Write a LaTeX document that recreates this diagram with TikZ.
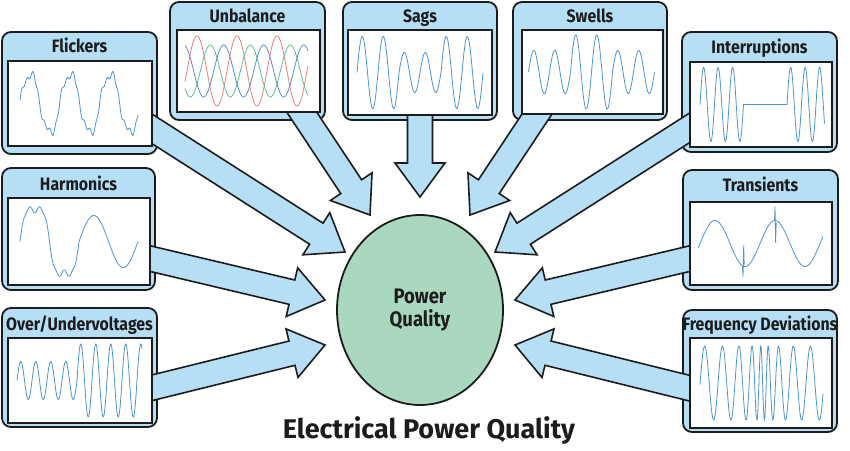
\documentclass[tikz,border=0pt]{standalone}
\usepackage{fontspec}
\setmainfont{Fira Sans}
\newfontfamily\condfont{Fira Sans}[FakeStretch=0.88]
\usetikzlibrary{calc,shapes.geometric}

\definecolor{panelblue}{RGB}{182,223,246}
\definecolor{edge}{RGB}{28,28,28}
\definecolor{pqgreen}{RGB}{170,216,190}
\definecolor{wavecol}{RGB}{78,148,204}
\definecolor{phasea}{RGB}{232,128,118}
\definecolor{phaseb}{RGB}{92,190,150}
\definecolor{phasec}{RGB}{92,140,205}

\tikzset{
  panel/.style={draw=edge, fill=panelblue, line width=1.8pt, rounded corners=9pt, inner sep=0pt, outer sep=0pt},
  plotbox/.style={draw=edge, fill=white, line width=1.6pt, inner sep=0pt, outer sep=0pt},
  heading/.style={font=\condfont\bfseries\fontsize{18}{20}\selectfont, text=edge, inner sep=0pt, anchor=base},
  arrowbody/.style={draw=edge, fill=panelblue, line width=1.6pt, line join=miter},
  wave/.style={draw=wavecol, line width=0.8pt},
  pqnode/.style={ellipse, draw=edge, fill=pqgreen, line width=1.8pt, inner sep=0pt, align=center,
    font=\condfont\bfseries\fontsize{21}{23}\selectfont, text=edge},
}

% fat block arrow from #1 (inside a panel) to the tip #2
\newcommand{\fatarrow}[2]{%
  \coordinate (fa-s) at (#1);
  \coordinate (fa-t) at (#2);
  \coordinate (fa-b) at ($(fa-t)!34pt!(fa-s)$);
  \path[arrowbody] ($(fa-s)!12.5pt!90:(fa-t)$) -- ($(fa-b)!12.5pt!90:(fa-t)$)
    -- ($(fa-b)!25pt!90:(fa-t)$) -- (fa-t) -- ($(fa-b)!25pt!-90:(fa-t)$)
    -- ($(fa-b)!12.5pt!-90:(fa-t)$) -- ($(fa-s)!12.5pt!-90:(fa-t)$);
}

\begin{document}
\begin{tikzpicture}[x=1pt, y=-1pt]
\useasboundingbox (0,0) rectangle (850,450);

% Outer panels
\node[panel, minimum width=155pt, minimum height=122pt] (flickers) at (79.5,93) {};
\node[panel, minimum width=155pt, minimum height=118pt] (unbalance) at (247.5,61) {};
\node[panel, minimum width=154pt, minimum height=118pt] (sags) at (420,61) {};
\node[panel, minimum width=154pt, minimum height=118pt] (swells) at (590,61) {};
\node[panel, minimum width=155pt, minimum height=120pt] (interrupt) at (759.5,92) {};
\node[panel, minimum width=153pt, minimum height=122pt] (harmonics) at (78.5,229) {};
\node[panel, minimum width=155pt, minimum height=120pt] (transients) at (760.5,230) {};
\node[panel, minimum width=155pt, minimum height=119pt] (overunder) at (79.5,367.5) {};
\node[panel, minimum width=154pt, minimum height=122pt] (freqdev) at (760,371) {};

% The centre
\node[pqnode, minimum width=166pt, minimum height=190pt] (pq) at (420,310) {Power\\Quality};

% Where the arrows start and end
\coordinate (flickers-s) at (135,118);
\coordinate (flickers-t) at (345,252);
\coordinate (unbalance-s) at (295,102);
\coordinate (unbalance-t) at (370,215);
\coordinate (sags-s) at (420,100);
\coordinate (sags-t) at (420,197);
\coordinate (swells-s) at (545,102);
\coordinate (swells-t) at (470,215);
\coordinate (interrupt-s) at (705,118);
\coordinate (interrupt-t) at (495,252);
\coordinate (harmonics-s) at (135,255);
\coordinate (harmonics-t) at (325,300);
\coordinate (transients-s) at (705,255);
\coordinate (transients-t) at (515,300);
\coordinate (overunder-s) at (135,392);
\coordinate (overunder-t) at (325,345);
\coordinate (freqdev-s) at (705,392);
\coordinate (freqdev-t) at (515,345);

% Draw the arrows
\fatarrow{flickers-s}{flickers-t}
\fatarrow{unbalance-s}{unbalance-t}
\fatarrow{sags-s}{sags-t}
\fatarrow{swells-s}{swells-t}
\fatarrow{interrupt-s}{interrupt-t}
\fatarrow{harmonics-s}{harmonics-t}
\fatarrow{transients-s}{transients-t}
\fatarrow{overunder-s}{overunder-t}
\fatarrow{freqdev-s}{freqdev-t}

% Plot windows
\node[plotbox, minimum width=144pt, minimum height=85pt] (flickers-p) at (80,103.5) {};
\node[plotbox, minimum width=143pt, minimum height=82pt] (unbalance-p) at (248.5,71) {};
\node[plotbox, minimum width=144pt, minimum height=85pt] (sags-p) at (420,72.5) {};
\node[plotbox, minimum width=141pt, minimum height=84pt] (swells-p) at (592.5,72) {};
\node[plotbox, minimum width=142pt, minimum height=85pt] (interrupt-p) at (761,104.5) {};
\node[plotbox, minimum width=142pt, minimum height=87pt] (harmonics-p) at (79,241.5) {};
\node[plotbox, minimum width=142pt, minimum height=83pt] (transients-p) at (761,243.5) {};
\node[plotbox, minimum width=144pt, minimum height=85pt] (overunder-p) at (80,380.5) {};
\node[plotbox, minimum width=142pt, minimum height=90pt] (freqdev-p) at (761,383) {};

% Waveforms
\begin{scope}[shift={(flickers-p.center)}, yscale=-1]
  \draw[wave] plot[domain=-60:58, samples=300] (\x, {30*sin(9*(\x+60)) + 4*sin(27*(\x+60)+50) + 2.5*sin(63*(\x+60))});
\end{scope}
\begin{scope}[shift={(unbalance-p.center)}, yscale=-1, line width=0.8pt]
  \draw[phasea] plot[domain=-63.5:59.5, samples=200] (\x, {35*sin(9*(\x+61.5))});
  \draw[phaseb] plot[domain=-63.5:59.5, samples=200] (\x, {26*sin(9*(\x+61.5)-120)});
  \draw[phasec] plot[domain=-63.5:59.5, samples=200] (\x, {26*sin(9*(\x+61.5)-240)});
\end{scope}
\begin{scope}[shift={(sags-p.center)}, yscale=-1]
  \draw[wave] plot[domain=-63:63, samples=300] (\x, {ifthenelse(abs(\x)<21, 20, 36)*sin(17.14*(\x+63))});
\end{scope}
\begin{scope}[shift={(swells-p.center)}, yscale=-1]
  \draw[wave] plot[domain=-64:62, samples=300] (\x, {ifthenelse(abs(\x+1)<21, 37, 21.5)*sin(17.14*(\x+64))});
\end{scope}
\begin{scope}[shift={(interrupt-p.center)}, yscale=-1]
  \draw[wave] plot[domain=-61:-17.5, samples=150] (\x, {37*sin(24.83*(\x+61))})
    -- plot[domain=26:63.5, samples=150] (\x, {37*sin(24.83*(\x-26))});
\end{scope}
\begin{scope}[shift={(harmonics-p.center)}, yscale=-1]
  \draw[wave] plot[domain=-59:59, samples=300] (\x, {ifthenelse(\x<0,
      38*(sin(6.1*(\x+59)) + 0.2*sin(18.3*(\x+59))) + 2*sin(42.7*(\x+59)),
      26*sin(6.1*(\x+59)))});
\end{scope}
\begin{scope}[shift={(transients-p.center)}, yscale=-1]
  \draw[wave] plot[domain=-63:62, samples=200] (\x, {23*sin(6*(\x+61))});
  \draw[wave] (-18.5,-22.5) -- (-18,-33) -- (-17.3,-2) -- (-16.8,-21);
  \draw[wave] (13.5,23) -- (14,37) -- (14.6,1) -- (15.2,21);
\end{scope}
\begin{scope}[shift={(overunder-p.center)}, yscale=-1]
  \draw[wave] plot[domain=-63:62, samples=300] (\x, {ifthenelse(\x<-3, 19, 36.5)*sin(24*(\x+63))});
\end{scope}
\begin{scope}[shift={(freqdev-p.center)}, yscale=-1]
  \draw[wave] plot[domain=-61:62, samples=400] (\x, {37*sin(19*(\x+61) + 5.5*(atan((\x-2)/10) + 80.5))});
\end{scope}

% Panel headings
\node[heading] (flickers-h) at (79.5,52) {Flickers};
\node[heading] (unbalance-h) at (247.5,22) {Unbalance};
\node[heading] (sags-h) at (420,22) {Sags};
\node[heading] (swells-h) at (590,22) {Swells};
\node[heading] (interrupt-h) at (759.5,53) {Interruptions};
\node[heading] (harmonics-h) at (78.5,190) {Harmonics};
\node[heading] (transients-h) at (760.5,191) {Transients};
\node[heading] (overunder-h) at (79.5,330) {Over/Undervoltages};
\node[heading] (freqdev-h) at (760,330) {Frequency Deviations};

% Caption
\node[font=\bfseries\fontsize{27}{30}\selectfont, text=edge, anchor=base, inner sep=0pt] (caption) at (429,438) {Electrical Power Quality};
\end{tikzpicture}
\end{document}
